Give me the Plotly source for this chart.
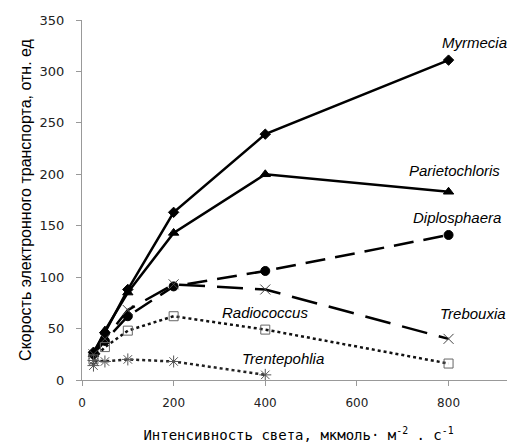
import plotly.graph_objects as go

light = [25, 50, 100, 200, 400, 800]
myrmecia = [27, 46, 88, 163, 239, 311]
parietochloris = [25, 48, 85, 143, 200, 183]
diplosphaera = [25, 38, 62, 91, 106, 141]
trebouxia = [25, 40, 68, 93, 88, 40]
radiococcus = [20, 32, 48, 62, 49, 16]
trent_x = [25, 25, 50, 100, 200, 400]
trentepohlia = [14, 19, 18, 20, 18, 5]

x_ticks = [0, 200, 400, 600, 800]
y_ticks = [0, 50, 100, 150, 200, 250, 300, 350]

labels = [
    ("Myrmecia", 857, 328),
    ("Parietochloris", 813, 204),
    ("Diplosphaera", 818, 158),
    ("Radiococcus", 399, 66),
    ("Trebouxia", 853, 65),
    ("Trentepohlia", 438, 21),
]

fig = go.Figure()

def add(x, y, dash, width, color, symbol, size, mcolor, mline):
    fig.add_trace(go.Scatter(
        x=x, y=y, mode="lines+markers",
        line=dict(color=color, width=width, dash=dash),
        marker=dict(symbol=symbol, size=size, color=mcolor,
                    line=dict(color=mline, width=1)),
        showlegend=False))

add(light, myrmecia, "solid", 2.5, "black", "diamond", 8, "black", "black")
add(light, parietochloris, "solid", 2.5, "black", "triangle-up", 9, "black", "black")
add(light, diplosphaera, "20px,10px", 2.5, "black", "circle", 9, "black", "black")
add(light, trebouxia, "26px,12px", 2.5, "black", "x-thin-open", 10, "#444", "#444")
add(light, radiococcus, "dot", 2.5, "#111", "square-open", 9, "#666", "#666")
add(trent_x, trentepohlia, "dot", 2.5, "#222", "asterisk-open", 10, "#555", "#555")

for text, x, y in labels:
    fig.add_annotation(x=x, y=y, text=text, showarrow=False,
                       font=dict(family="Liberation Sans, Arial", size=15, color="black", style="italic"))

fig.update_layout(
    width=507, height=439,
    margin=dict(l=74, r=0, t=12, b=67),
    plot_bgcolor="white", paper_bgcolor="white",
    xaxis=dict(range=[0, 945], tickvals=x_ticks, showgrid=False, zeroline=False,
               automargin=False,
               showline=True, linecolor="#999", linewidth=1,
               ticks="outside", tickcolor="#999", ticklen=5,
               ticklabelstandoff=7,
               tickfont=dict(family="DejaVu Sans, Verdana", size=12, color="#222"),
               title=dict(text="Интенсивность света, мкмоль· м<sup>-2</sup> . с<sup>-1</sup>",
                          font=dict(family="DejaVu Sans Mono", size=14, color="black"),
                          standoff=20)),
    yaxis=dict(range=[0, 350], tickvals=y_ticks, showgrid=False, zeroline=False,
               automargin=False,
               showline=True, linecolor="#999", linewidth=1,
               ticks="outside", tickcolor="#999", ticklen=5,
               ticklabelstandoff=9,
               tickfont=dict(family="DejaVu Sans, Verdana", size=13, color="#222"),
               title=dict(text="Скорость электронного транспорта, отн. ед",
                          font=dict(family="Liberation Sans, Arial", size=16, color="black"),
                          standoff=3)),
)

fig.write_html("out.html")
